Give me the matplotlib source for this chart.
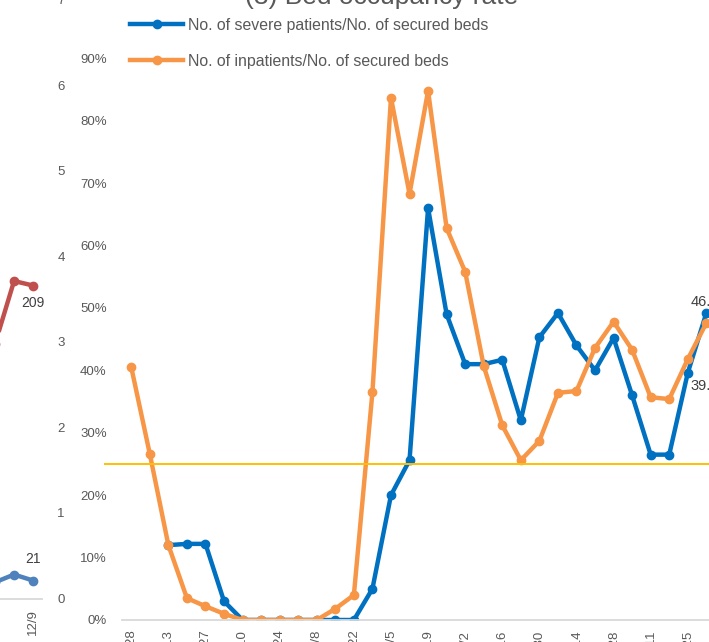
import matplotlib.pyplot as plt
import numpy as np

plt.rcParams['font.family'] = ['Liberation Sans', 'DejaVu Sans']

# --- datos del grafico principal (tasa de ocupacion de camas) ---
fechas = ['5/28', '6/6', '6/13', '6/20', '6/27', '7/3', '7/10', '7/17',
          '7/24', '8/1', '8/8', '8/15', '8/22', '8/29', '9/5', '9/12',
          '9/19', '9/26', '10/2', '10/9', '10/16', '10/23', '10/30', '11/6',
          '11/14', '11/21', '11/28', '12/4', '12/11', '12/18', '12/25', '1/1']
graves = [np.nan, np.nan, 0.12, 0.122, 0.122, 0.03, 0, 0,
          0, 0, 0, 0, 0, 0.05, 0.20, 0.256,
          0.66, 0.49, 0.41, 0.41, 0.417, 0.32, 0.453, 0.492,
          0.44, 0.40, 0.452, 0.36, 0.265, 0.265, 0.396, 0.492]
internados = [0.405, 0.266, 0.12, 0.035, 0.022, 0.01, 0, 0,
              0, 0, 0, 0.018, 0.04, 0.365, 0.837, 0.683,
              0.848, 0.628, 0.558, 0.407, 0.312, 0.256, 0.287, 0.364,
              0.367, 0.436, 0.478, 0.433, 0.357, 0.354, 0.418, 0.476]
umbral = 0.25
etiquetas_finales = ['46.5%', '39.5%']
pos_etiquetas = [0.51, 0.375]

# --- datos del grafico de la izquierda (cortado) ---
fechas_izq = ['11/25', '12/2', '12/9']
serie_roja = [170, 212, 209]
serie_azul = [19, 28, 21]

W, H = 709, 642
gris = '#595959'


def rect(x0, y0, x1, y1):
    # coordenadas en pixeles (origen arriba a la izquierda) -> fraccion de figura
    return [x0 / W, 1 - y1 / H, (x1 - x0) / W, (y1 - y0) / H]


fig = plt.figure(figsize=(W / 100, H / 100), dpi=100)

# ---------- grafico izquierdo ----------
ax_izq = fig.add_axes(rect(-100, -0.5, 42, 598.5))
x_izq = np.arange(len(fechas_izq))
ax_izq.plot(x_izq, serie_roja, color='#C0504D', lw=3.2, marker='o', ms=6,
            solid_capstyle='round')
ax_izq.set_ylim(0, 400)
ax_izq.set_xlim(-5, 2.47)
ax_izq.set_yticks([])
ax_izq.set_xticks([0, 2])
ax_izq.set_xticklabels([fechas_izq[0], fechas_izq[2]], rotation=90,
                       fontsize=9.5, color=gris)
ax_izq.tick_params(axis='x', length=0, pad=8)
for s in ['top', 'left', 'right']:
    ax_izq.spines[s].set_visible(False)
ax_izq.spines['bottom'].set_color('#D9D9D9')
ax_izq.spines['bottom'].set_linewidth(1.3)
ax_izq.patch.set_alpha(0)

ax_izq2 = ax_izq.twinx()
ax_izq2.plot(x_izq, np.array(serie_azul) / 100, color='#4F81BD', lw=3.2,
             marker='o', ms=6)
ax_izq2.set_ylim(0, 7)
ax_izq2.set_yticks(range(8))
ax_izq2.tick_params(axis='y', length=0, pad=11, labelsize=9.5, labelcolor=gris)
for s in ax_izq2.spines.values():
    s.set_visible(False)
ax_izq.text(x_izq[-1], serie_roja[-1] - 7, str(serie_roja[-1]), ha='center',
            va='top', fontsize=10, color='#404040')
ax_izq2.text(x_izq[-1], serie_azul[-1] / 100 + 0.17, str(serie_azul[-1]),
             ha='center', va='bottom', fontsize=10, color='#404040')

# ---------- grafico principal ----------
ax = fig.add_axes(rect(122, -4, 122 + 32 * 18.55, 620))
x = np.arange(len(fechas))
l_azul, = ax.plot(x, graves, color='#0070C0', lw=3.2, marker='o', ms=6,
                  label='No. of severe patients/No. of secured beds')
l_naranja, = ax.plot(x, internados, color='#F79646', lw=3.2, marker='o', ms=6,
                     label='No. of inpatients/No. of secured beds')
ax.axhline(umbral, xmin=-0.029, xmax=1, color='#FFC000', lw=1.4, clip_on=False)

ax.set_xlim(-0.5, len(fechas) - 0.5)
ax.set_ylim(0, 1.0)
ax.set_yticks(np.arange(0, 1.01, 0.1))
ax.set_yticklabels([f'{int(round(v * 100))}%' for v in np.arange(0, 1.01, 0.1)])
ax.tick_params(axis='y', length=0, pad=11, labelsize=9.5, labelcolor=gris)
ax.set_xticks(x[::2])
ax.set_xticklabels(fechas[::2], rotation=90, fontsize=9.5, color=gris)
ax.tick_params(axis='x', length=0, pad=7)
for s in ['top', 'left', 'right']:
    ax.spines[s].set_visible(False)
ax.spines['bottom'].set_color('#D9D9D9')
ax.spines['bottom'].set_linewidth(1.3)
ax.patch.set_alpha(0)

for txt, yv in zip(etiquetas_finales, pos_etiquetas):
    ax.text(30.17, yv, txt, ha='left', va='center', fontsize=10.5,
            color='#404040')

ax.legend(handles=[l_azul, l_naranja], loc='upper left',
          bbox_to_anchor=(130 / W, 1 - 18 / H), bbox_transform=fig.transFigure,
          frameon=False, borderpad=0, borderaxespad=0, handlelength=3.35,
          handletextpad=0.32, labelspacing=1.32, fontsize=11.4,
          labelcolor=gris)

fig.text(382 / W, 1 - 4 / H, '(3) Bed occupancy rate', ha='center',
         va='baseline', fontsize=19, color=gris)

fig.savefig('out.png', dpi=100)
